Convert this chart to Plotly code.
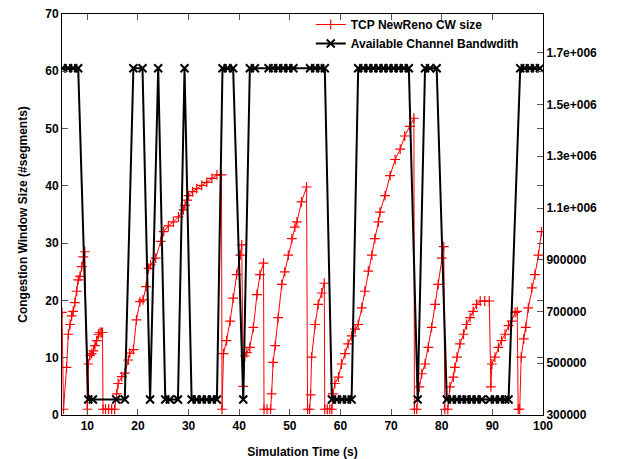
import plotly.graph_objects as go

# ---- data ----
cw_time = [5.0, 5.3, 5.9, 6.25, 6.6, 6.9, 7.2, 7.55, 7.9, 8.2, 8.55, 8.9, 9.2, 9.5, 10.0,
           10.2, 10.53, 10.86, 11.2, 11.5, 11.85, 12.2, 12.5, 12.8, 13.0, 13.1, 13.6, 14.2, 14.8, 15.4,
           15.8, 16.1, 16.8, 17.4, 18.1, 18.4, 19.1, 19.7, 20.4, 21.0, 21.6, 22.1, 22.5, 23.5, 24.5, 25.1,
           26.0, 27.0, 28.0, 29.0, 29.3, 29.7, 30.0, 30.8, 31.6, 32.6, 33.6, 34.6, 35.6, 36.5, 36.6,
           36.9, 37.5, 38.2, 38.8, 39.5, 40.2, 40.5, 40.8, 41.1, 41.5, 42.1, 42.8, 43.5, 44.1, 44.8,
           44.9, 45.5, 46.2,
           46.4, 46.7, 47.1, 47.7, 48.4, 49.0, 49.7, 50.4, 51.0, 51.4, 52.3, 53.3, 53.5, 53.9,
           54.1, 54.3, 55.0, 55.6, 56.3, 56.8, 56.9, 57.4, 57.9, 58.3,
           58.5, 58.9, 59.6, 60.2, 60.9, 61.5, 62.2, 62.9, 63.5, 64.2, 64.8, 65.5, 66.2, 66.8, 67.5,
           67.8, 68.8, 69.8, 70.8, 71.8, 72.7, 73.7, 74.5, 74.6, 75.05,
           75.6, 76.05, 76.7, 77.35, 78.0, 78.7, 79.3, 80.0, 80.4, 80.6, 81.2,
           81.6, 82.3, 82.6, 83.0, 83.6, 84.3, 84.9, 85.6, 86.2, 86.9, 87.6, 88.5, 89.4,
           89.7, 89.9, 90.5, 91.2, 91.8, 92.5, 93.2, 93.8, 94.5, 94.9, 95.1, 95.4,
           95.7, 96.2, 96.6, 97.1, 97.8, 98.4, 99.1, 99.7]
cw_size = [17.9, 1.0, 8.3, 14.1, 15.8, 17.3, 18.1, 19.6, 21.6, 23.6, 24.2, 25.9, 27.6, 28.5, 1.0,
           8.9, 10.4, 10.7, 11.2, 12.1, 13.0, 14.1, 14.4, 14.4, 14.4, 1.0, 1.0, 1.0, 1.0, 1.0,
           3.7, 5.5, 6.7, 7.3, 9.6, 10.8, 11.4, 16.6, 19.8, 20.1, 22.4, 25.6, 26.2, 27.4, 30.3, 32.0,
           33.0, 33.7, 34.6, 35.8, 36.6, 37.5, 38.3, 39.0, 39.5, 40.1, 40.6, 41.3, 41.9, 41.9, 1.0,
           10.7, 13.0, 16.4, 20.4, 24.5, 27.9, 29.7, 5.0, 10.3, 10.9, 11.8, 15.3, 21.0, 24.5, 26.5,
           1.0, 1.0, 1.0,
           3.7, 9.2, 12.1, 17.0, 22.8, 25.0, 27.9, 30.8, 32.8, 33.7, 37.2, 39.8, 1.0, 1.0,
           3.5, 10.1, 15.8, 19.3, 21.3, 23.0, 1.0, 1.0, 1.0, 1.0,
           3.7, 5.5, 6.6, 8.9, 10.7, 12.4, 13.8, 15.0, 15.8, 18.7, 21.6, 25.1, 27.9, 30.8, 33.7,
           35.4, 38.3, 41.8, 44.6, 46.4, 48.7, 50.4, 51.8, 1.0, 1.0,
           4.9, 7.2, 8.9, 11.8, 15.3, 19.3, 22.8, 27.4, 29.4, 1.0, 1.0,
           4.9, 6.6, 8.3, 10.1, 12.4, 14.1, 15.8, 17.0, 18.1, 19.3, 19.9, 19.9, 19.9,
           4.9, 8.9, 10.1, 11.8, 13.0, 14.1, 15.6, 16.4, 17.9, 18.1, 1.0, 1.0,
           10.1, 13.3, 15.3, 18.7, 22.2, 24.5, 27.9, 32.0]

HI = 1640000
LO = 360000
bw_time = [5.1, 6.2, 7.2, 8.2, 10.2, 11.1, 15.7, 17.4, 19.1, 20.9, 22.4, 24.0, 25.4, 26.3, 27.9,
           29.2, 30.6, 31.6, 32.6, 33.6, 34.6, 35.6, 36.7, 37.7, 38.8, 40.8, 42.1, 43.1, 45.8,
           46.7, 47.7, 48.7, 49.7, 50.7, 54.0, 55.0, 56.0, 56.9, 58.3, 59.3, 60.3, 61.3, 62.2,
           63.5, 64.5, 65.5, 66.5, 67.5, 68.5, 69.5, 70.5, 71.5, 72.5, 73.5, 75.25, 76.7, 77.7,
           79.0, 81.0, 82.0, 83.0, 84.0, 84.9, 85.9, 86.9, 87.9, 89.5, 90.5, 91.5, 92.5, 93.2,
           95.5, 96.4, 97.4, 98.4, 99.4]
bw_value = [HI, HI, HI, HI, LO, LO, LO, LO, HI, HI, LO, HI, LO, LO, LO,
            HI, LO, LO, LO, LO, LO, LO, HI, HI, HI, LO, HI, HI, HI,
            HI, HI, HI, HI, HI, HI, HI, HI, HI, LO, LO, LO, LO, LO,
            HI, HI, HI, HI, HI, HI, HI, HI, HI, HI, HI, LO, HI, HI,
            HI, LO, LO, LO, LO, LO, LO, LO, LO, LO, LO, LO, LO, LO,
            HI, HI, HI, HI, HI]

x_ticks = [10, 20, 30, 40, 50, 60, 70, 80, 90, 100]
y_ticks = [0, 10, 20, 30, 40, 50, 60, 70]
y2_ticks = [300000, 500000, 700000, 900000, 1100000, 1300000, 1500000, 1700000]
y2_labels = ["300000", "500000", "700000", "900000", "1.1e+006", "1.3e+006", "1.5e+006", "1.7e+006"]

FONT = "Liberation Sans, Arial, sans-serif"

fig = go.Figure()
fig.add_trace(go.Scatter(
    x=cw_time, y=cw_size, mode="lines+markers", name="TCP NewReno CW size",
    line=dict(color="#ff0000", width=1),
    marker=dict(symbol="cross-thin", size=7, line=dict(color="#ff0000", width=1.2)),
))
fig.add_trace(go.Scatter(
    x=bw_time, y=bw_value, mode="lines+markers", name="Available Channel Bandwdith",
    yaxis="y2",
    line=dict(color="#000000", width=2),
    marker=dict(symbol="x-thin", size=8, line=dict(color="#000000", width=2)),
))

axis_common = dict(showgrid=False, zeroline=False, showline=True, linecolor="black",
                   linewidth=1, ticks="inside", ticklen=6, tickcolor="#555555",
                   automargin=False,
                   tickfont=dict(family=FONT, size=12, color="black", weight="bold"))

fig.update_layout(
    width=631, height=459,
    margin=dict(l=62, r=88, t=10, b=44),
    plot_bgcolor="white", paper_bgcolor="white",
    font=dict(family=FONT, size=12, color="black", weight="bold"),
    xaxis=dict(range=[5, 100], tickvals=x_ticks, mirror="ticks",
               title=dict(text="Simulation Time (s)",
                          font=dict(family=FONT, size=12, weight="bold")),
               **axis_common),
    yaxis=dict(range=[0, 70], tickvals=y_ticks, mirror="ticks",
               title=dict(text="Congestion Window Size (#segments)",
                          font=dict(family=FONT, size=12, weight="bold")),
               **axis_common),
    yaxis2=dict(range=[300000, 1850000], tickvals=y2_ticks, ticktext=y2_labels,
                overlaying="y", side="right", **axis_common),
    legend=dict(x=0.96, xanchor="right", y=1.01, yanchor="top",
                bgcolor="rgba(0,0,0,0)", borderwidth=0, tracegroupgap=0,
                font=dict(family=FONT, size=12, color="black", weight="bold")),
    showlegend=True,
)

fig.write_html("out.html", config={"displayModeBar": False})

# remove the default page margin so the figure sits at the window's corner
with open("out.html", "r", encoding="utf-8") as f:
    html = f.read()
html = html.replace("<head>", "<head><style>html,body{margin:0;padding:0;overflow:hidden;}</style>", 1)
with open("out.html", "w", encoding="utf-8") as f:
    f.write(html)
